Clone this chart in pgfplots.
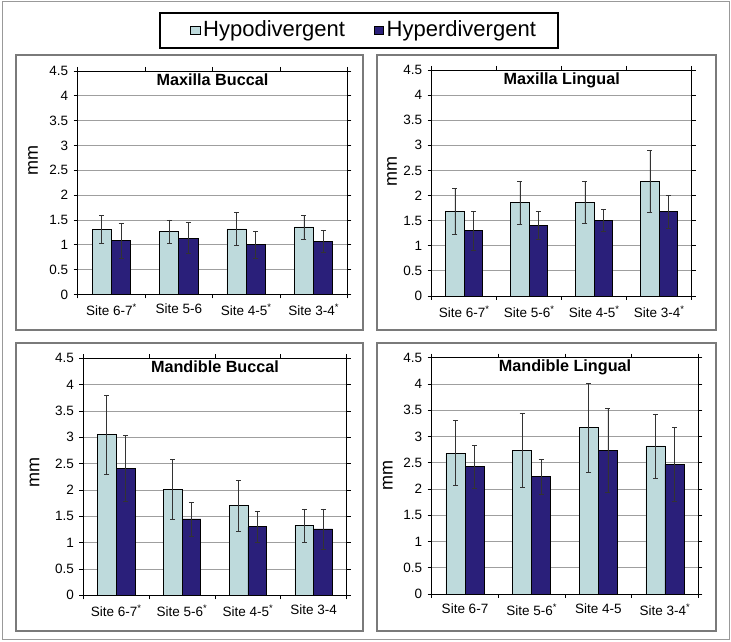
\documentclass[border=0pt]{standalone}
\usepackage{pgfplots}
\pgfplotsset{compat=1.18}
\usepackage{pgfplotstable}
\usepackage{fontspec}
\setmainfont{Liberation Sans}
\definecolor{hypo}{HTML}{BEDADC}
\definecolor{hyper}{HTML}{2A1F7A}
\definecolor{frm}{HTML}{7A7A7A}

\pgfplotstableread{
x h hp hm y yp ym
0 1.31 0.29 0.29 1.08 0.35 0.35
1 1.27 0.23 0.24 1.13 0.32 0.31
2 1.32 0.33 0.33 1.00 0.27 0.27
3 1.36 0.24 0.24 1.06 0.23 0.22
}\MB
\pgfplotstableread{
x h hp hm y yp ym
0 1.69 0.45 0.46 1.30 0.38 0.40
1 1.86 0.42 0.43 1.41 0.27 0.28
2 1.87 0.41 0.42 1.51 0.21 0.23
3 2.28 0.62 0.61 1.68 0.33 0.34
}\ML
\pgfplotstableread{
x h hp hm y yp ym
0 3.06 0.74 0.77 2.41 0.62 0.62
1 2.01 0.57 0.56 1.45 0.31 0.33
2 1.70 0.48 0.49 1.30 0.29 0.30
3 1.33 0.31 0.32 1.26 0.38 0.39
}\MdB
\pgfplotstableread{
x h hp hm y yp ym
0 2.68 0.62 0.61 2.43 0.40 0.42
1 2.74 0.70 0.70 2.23 0.33 0.33
2 3.17 0.84 0.85 2.74 0.80 0.80
3 2.82 0.61 0.62 2.47 0.70 0.71
}\MdL

\pgfplotsset{
  panel/.style={
    scale only axis,
    anchor=south west,
    ybar, bar width=0.2857,
    xmin=-0.5, xmax=3.5, ymin=0, ymax=4.5,
    xtick={-0.5,0.5,1.5,2.5,3.5},
    ytick={0,0.5,1,1.5,2,2.5,3,3.5,4,4.5},
    tick align=outside, major tick length=4bp,
    ymajorgrids, xmajorgrids=false, grid style={color=gray!75, line width=0.8bp},
    axis line style={black, line width=0.8bp},
    every tick/.style={black, line width=0.8bp},
    /pgf/number format/assume math mode=true,
    tick label style={font=\fontsize{13.5bp}{16bp}\selectfont},
    yticklabel style={xshift=-2bp},
    title style={font=\bfseries\fontsize{16.2bp}{19bp}\selectfont, at={(0.5,1)}, anchor=base, yshift=-20bp},
    ylabel={mm},
    ylabel style={font=\fontsize{18bp}{21bp}\selectfont, rotate=0, anchor=center},
    every axis plot/.append style={draw=black, line width=0.8bp},
    error bars/error bar style={color=black!80, line width=0.7bp},
    error bars/error mark options={rotate=90, mark size=2.5bp, line width=0.7bp, color=black!80},
  },
  hypobar/.style={fill=hypo, bar shift=-0.14285},
  hyperbar/.style={fill=hyper, bar shift=0.14285},
}

\begin{document}
\begin{tikzpicture}[x=1bp,y=1bp]
\path[use as bounding box, fill=white] (0,0) rectangle (731,642);
\draw[color=gray!80, line width=1bp] (2.5,2.5) rectangle (729,640);
% panels
\draw[frm, line width=1.2bp] (16,312) rectangle (363,587);
\draw[frm, line width=1.2bp] (377,312) rectangle (716,587);
\draw[frm, line width=1.2bp] (16,11) rectangle (363,299);
\draw[frm, line width=1.2bp] (377,11) rectangle (716,299);
% legend
\draw[black, line width=1.3bp] (160,594) rectangle (558,629);
\draw[black, line width=0.6bp, fill=hypo] (190.7,607.3) rectangle (200,615.7);
\node[anchor=base west, inner sep=0pt, font=\fontsize{22bp}{25bp}\selectfont] at (203,605.3) {Hypodivergent};
\draw[black, line width=0.6bp, fill=hyper] (374,607.3) rectangle (383.3,615.7);
\node[anchor=base west, inner sep=0pt, font=\fontsize{22bp}{25bp}\selectfont] at (386.5,605.3) {Hyperdivergent};

\begin{axis}[panel, at={(77.7bp,347.5bp)}, width=269.6bp, height=223.5bp,
  title={Maxilla Buccal},
  ylabel style={at={(axis description cs:-0.166,0.60)}},
  xticklabel style={xshift=33.7bp, yshift=-2bp},
  xticklabels={Site 6-7\textsuperscript{*}, Site 5-6, Site 4-5\textsuperscript{*}, Site 3-4\textsuperscript{*}, {}}]
\addplot[hypobar, error bars/.cd, y dir=both, y explicit] table[x=x, y=h, y error plus=hp, y error minus=hm] {\MB};
\addplot[hyperbar, error bars/.cd, y dir=both, y explicit] table[x=x, y=y, y error plus=yp, y error minus=ym] {\MB};
\end{axis}

\begin{axis}[panel, at={(431.7bp,346bp)}, width=260bp, height=226bp,
  title={Maxilla Lingual},
  ylabel style={at={(axis description cs:-0.153,0.55)}},
  xticklabel style={xshift=32.5bp, yshift=-2bp},
  xticklabels={Site 6-7\textsuperscript{*}, Site 5-6\textsuperscript{*}, Site 4-5\textsuperscript{*}, Site 3-4\textsuperscript{*}, {}}]
\addplot[hypobar, error bars/.cd, y dir=both, y explicit] table[x=x, y=h, y error plus=hp, y error minus=hm] {\ML};
\addplot[hyperbar, error bars/.cd, y dir=both, y explicit] table[x=x, y=y, y error plus=yp, y error minus=ym] {\ML};
\end{axis}

\begin{axis}[panel, at={(83.3bp,46.7bp)}, width=263.4bp, height=237bp,
  title={Mandible Buccal},
  ylabel style={at={(axis description cs:-0.185,0.52)}},
  xticklabel style={xshift=32.9bp, yshift=-2bp},
  xticklabels={Site 6-7\textsuperscript{*}, Site 5-6\textsuperscript{*}, Site 4-5\textsuperscript{*}, Site 3-4, {}}]
\addplot[hypobar, error bars/.cd, y dir=both, y explicit] table[x=x, y=h, y error plus=hp, y error minus=hm] {\MdB};
\addplot[hyperbar, error bars/.cd, y dir=both, y explicit] table[x=x, y=y, y error plus=yp, y error minus=ym] {\MdB};
\end{axis}

\begin{axis}[panel, at={(431.7bp,48bp)}, width=266.6bp, height=236.3bp,
  title={Mandible Lingual},
  ylabel style={at={(axis description cs:-0.165,0.50)}},
  xticklabel style={xshift=33.3bp, yshift=-2bp},
  xticklabels={Site 6-7, Site 5-6\textsuperscript{*}, Site 4-5, Site 3-4\textsuperscript{*}, {}}]
\addplot[hypobar, error bars/.cd, y dir=both, y explicit] table[x=x, y=h, y error plus=hp, y error minus=hm] {\MdL};
\addplot[hyperbar, error bars/.cd, y dir=both, y explicit] table[x=x, y=y, y error plus=yp, y error minus=ym] {\MdL};
\end{axis}
\end{tikzpicture}
\end{document}
